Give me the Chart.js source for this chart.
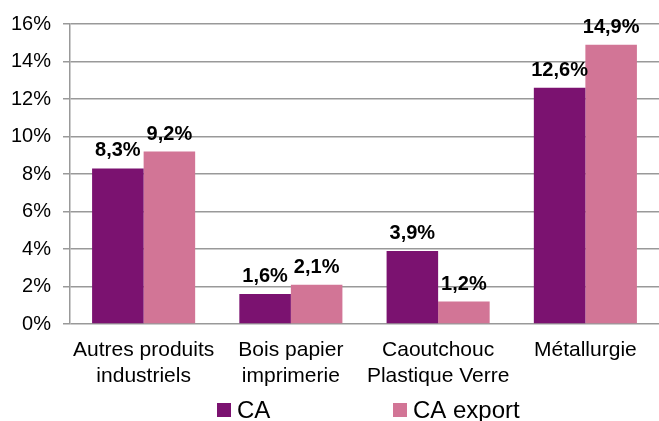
<!DOCTYPE html>
<html>
<head>
<meta charset="utf-8">
<script src="https://cdn.jsdelivr.net/npm/chart.js@4"></script>
<style>
  html, body { margin: 0; padding: 0; background: #fff; }
  #wrap { width: 659px; height: 421px; }
</style>
</head>
<body>
<div id="wrap"><canvas id="chart"></canvas></div>
<script>
const categories = [
  ["Autres produits", "industriels"],
  ["Bois papier", "imprimerie"],
  ["Caoutchouc", "Plastique Verre"],
  ["Métallurgie"],
];
const caValues = [8.3, 1.6, 3.9, 12.6];
const caExportValues = [9.2, 2.1, 1.2, 14.9];
const seriesNames = ["CA", "CA export"];

const fontFamily = "'Liberation Sans', Arial, sans-serif";

function pct(v) {
  return v.toFixed(1).replace(".", ",") + "%";
}

// value labels above each bar
const valueLabels = {
  id: "valueLabels",
  afterDatasetsDraw(chart) {
    const ctx = chart.ctx;
    ctx.save();
    ctx.font = "bold 20px " + fontFamily;
    ctx.fillStyle = "#000";
    ctx.textAlign = "center";
    ctx.textBaseline = "alphabetic";
    chart.data.datasets.forEach((ds, i) => {
      chart.getDatasetMeta(i).data.forEach((bar, j) => {
        ctx.fillText(pct(ds.data[j]), bar.x, bar.y - 12);
      });
    });
    ctx.restore();
  },
};

// excel-like legend: fixed-width columns under the plot
const bottomLegend = {
  id: "bottomLegend",
  afterDraw(chart) {
    const ctx = chart.ctx;
    const area = chart.chartArea;
    const colWidth = 176;
    const startX = area.left + 147;
    const y = 410;
    ctx.save();
    ctx.font = "24px " + fontFamily;
    ctx.textBaseline = "middle";
    ctx.textAlign = "left";
    chart.data.datasets.forEach((ds, i) => {
      const x = startX + i * colWidth;
      ctx.fillStyle = ds.backgroundColor;
      ctx.fillRect(x, y - 7, 14, 14);
      ctx.fillStyle = "#000";
      ctx.fillText(ds.label, x + 20, y + 1);
    });
    ctx.restore();
  },
};

const chart = new Chart(document.getElementById("chart"), {
  type: "bar",
  data: {
    labels: categories,
    datasets: [
      {
        label: seriesNames[0],
        data: caValues,
        backgroundColor: "#7B1270",
      },
      {
        label: seriesNames[1],
        data: caExportValues,
        backgroundColor: "#D27596",
      },
    ],
  },
  options: {
    responsive: true,
    maintainAspectRatio: false,
    animation: false,
    layout: { padding: { top: 15, right: 0, left: 0, bottom: 30 } },
    plugins: {
      legend: { display: false },
      tooltip: { enabled: false },
    },
    datasets: {
      bar: { categoryPercentage: 0.7, barPercentage: 1.0 },
    },
    scales: {
      x: {
        grid: { display: false },
        border: { display: false },
        ticks: {
          color: "#000",
          font: { family: fontFamily, size: 21 },
          maxRotation: 0,
          padding: 6,
        },
        afterFit(scale) {
          scale.height = 67;
        },
      },
      y: {
        min: 0,
        max: 16,
        ticks: {
          stepSize: 2,
          color: "#000",
          font: { family: fontFamily, size: 20 },
          padding: 12,
          callback: (v) => v + "%",
        },
        grid: {
          color: "#999",
          lineWidth: 1.5,
          tickLength: 7,
        },
        border: { color: "#999", width: 1.5 },
        afterFit(scale) {
          scale.width = 70;
        },
      },
    },
  },
  plugins: [valueLabels, bottomLegend],
});
</script>
</body>
</html>
